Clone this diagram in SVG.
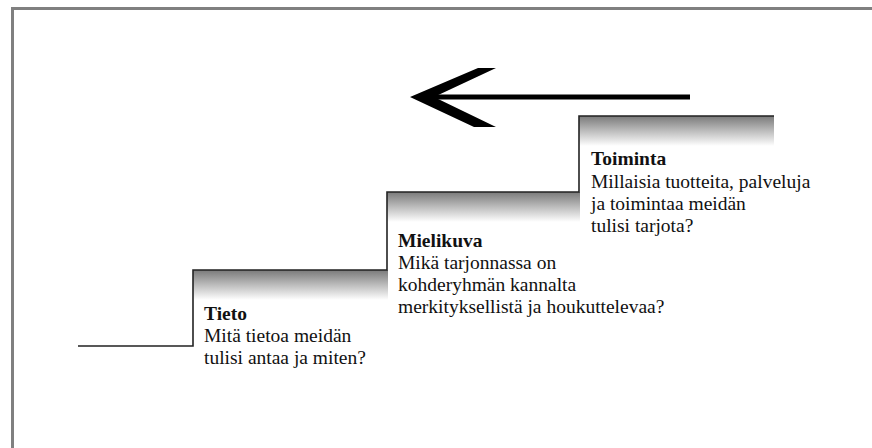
<svg xmlns="http://www.w3.org/2000/svg" width="872" height="448" viewBox="0 0 872 448">
<style>
.frame{fill:none;stroke:#808080;stroke-width:3}
.step{fill:none;stroke:#222;stroke-width:1.6}
.t{font-family:"Liberation Serif","Times New Roman",serif;font-size:19.5px;fill:#111}
.b{font-weight:bold}
</style>
<defs>
<linearGradient id="g" x1="0" y1="0" x2="0" y2="1">
<stop offset="0" stop-color="#7a7a7a"/>
<stop offset="1" stop-color="#ffffff"/>
</linearGradient>
</defs>
<rect width="872" height="448" fill="#fff"/>
<path class="frame" d="M12.5,448 V8.5 H872"/>
<g id="tieto">
<rect x="193" y="270" width="195" height="30" fill="url(#g)"/>
<text class="t b" x="204" y="320">Tieto</text>
<text class="t" x="204" y="342">Mitä tietoa meidän</text>
<text class="t" x="204" y="364">tulisi antaa ja miten?</text>
</g>
<g id="mielikuva">
<rect x="387" y="192" width="193" height="30" fill="url(#g)"/>
<text class="t b" x="398" y="247">Mielikuva</text>
<text class="t" x="398" y="269">Mikä tarjonnassa on</text>
<text class="t" x="398" y="291">kohderyhmän kannalta</text>
<text class="t" x="398" y="313">merkityksellistä ja houkuttelevaa?</text>
</g>
<g id="toiminta">
<rect x="579" y="116" width="195" height="30" fill="url(#g)"/>
<text class="t b" x="591" y="165">Toiminta</text>
<text class="t" x="591" y="188">Millaisia tuotteita, palveluja</text>
<text class="t" x="591" y="210">ja toimintaa meidän</text>
<text class="t" x="591" y="232">tulisi tarjota?</text>
</g>
<g id="connectors">
<path class="step" d="M78,346 H193 V270 H387 V192 H579 V116 H774"/>
<line x1="425" y1="97" x2="690" y2="97" stroke="#000" stroke-width="5"/>
<polygon points="410,97 478,68 496,68 434,97 496,127 474,127" fill="#000"/>
</g>
</svg>
